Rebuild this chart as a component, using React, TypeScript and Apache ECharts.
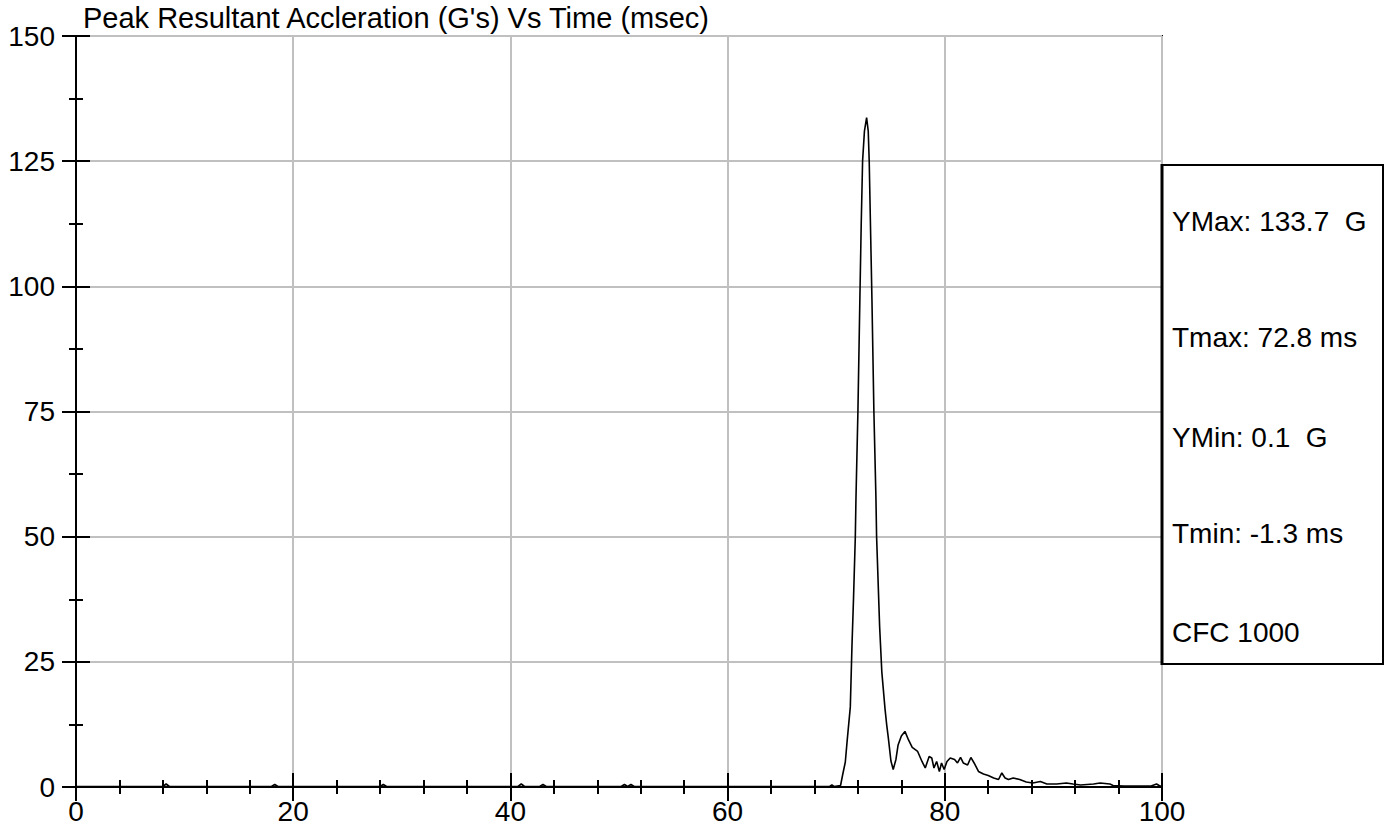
import React, { useEffect, useRef } from "react";
import * as echarts from "echarts";

const FONT = "Arial, 'Liberation Sans', Helvetica, sans-serif";

const titleText = "Peak Resultant Accleration (G's) Vs Time (msec)";
const xTicks = { min: 0, max: 100, interval: 20 };
const yTicks = { min: 0, max: 150, interval: 25 };

const timeMs: number[] = [
  0, 3, 8.0, 8.3, 8.6, 13, 18.0, 18.3, 18.6, 23, 28.0, 28.3, 28.6, 34,
  40.7, 41.0, 41.3, 42.7, 43.0, 43.3, 47, 50.2, 50.5, 50.8, 51.1, 51.4, 56, 62, 66,
  69.4, 69.6, 69.8, 70.4, 70.6, 70.84, 71.0, 71.3, 71.45, 71.6, 71.76, 71.82, 72.0,
  72.18, 72.3, 72.43, 72.6, 72.8, 72.95, 73.04, 73.29, 73.47, 73.66, 73.72, 74.0,
  74.2, 74.5, 74.65, 74.8, 75.04, 75.25, 75.5, 75.7, 76.0, 76.33, 76.66, 77.0, 77.5,
  77.9, 78.2, 78.56, 78.8, 79.0, 79.25, 79.5, 79.7, 79.94, 80.2, 80.5, 80.9, 81.17,
  81.45, 81.7, 82.1, 82.4, 82.7, 83.1, 83.56, 84.0, 84.5, 84.95, 85.25, 85.55, 85.86,
  86.3, 86.9, 87.5, 88.1, 88.8, 89.4, 90.3, 91.2, 91.8, 92.5, 93.7, 94.3, 95.2, 95.5,
  96.5, 97.5, 99.0, 99.5, 99.8, 100,
];

const accelG: number[] = [
  0.1, 0.1, 0.1, 0.6, 0.1, 0.1, 0.1, 0.5, 0.1, 0.1, 0.1, 0.5, 0.1, 0.1,
  0.1, 0.6, 0.1, 0.1, 0.5, 0.1, 0.1, 0.1, 0.5, 0.1, 0.5, 0.1, 0.1, 0.1, 0.1,
  0.1, 0.4, 0.1, 0.3, 2.5, 5, 9, 16, 28, 38, 50, 57.6, 75,
  97.5, 112, 125, 131, 133.7, 131, 125, 97.5, 75, 57.6, 50, 32,
  23, 15.5, 12.4, 9.8, 5.2, 3.5, 5.5, 8.4, 10.2, 11.1, 9.4, 7.9, 7.1,
  5.1, 3.8, 6.1, 5.8, 3.8, 5.1, 3.1, 4.8, 3.5, 5.1, 5.8, 5.5, 4.8,
  5.9, 4.8, 4.4, 5.9, 4.8, 3.1, 2.6, 2.3, 1.8, 1.5, 2.8, 1.8, 1.5,
  1.8, 1.5, 1.0, 0.8, 1.1, 0.6, 0.6, 0.8, 0.6, 0.4, 0.6, 0.8, 0.6, 0.3,
  0.2, 0.2, 0.2, 0.6, 0.2, 0.2,
];

const statLines: string[] = [
  "YMax: 133.7  G",
  "Tmax: 72.8 ms",
  "YMin: 0.1  G",
  "Tmin: -1.3 ms",
  "CFC 1000",
];
const statY: number[] = [221, 337, 437, 533, 632];

export default function App() {
  const ref = useRef<HTMLDivElement>(null);

  useEffect(() => {
    if (!ref.current) return;
    const chart = echarts.init(ref.current, undefined, { renderer: "svg" });
    const black = "#000";
    const tickStyle = { color: black, width: 2 };

    const xCommon = {
      type: "value" as const,
      position: "bottom" as const,
      min: xTicks.min,
      max: xTicks.max,
      interval: xTicks.interval,
    };
    const yCommon = {
      type: "value" as const,
      position: "left" as const,
      min: yTicks.min,
      max: yTicks.max,
      interval: yTicks.interval,
    };

    chart.setOption({
      animation: false,
      backgroundColor: "#fff",
      grid: {
        left: 76,
        right: 227,
        top: 36,
        bottom: 50,
        show: true,
        borderColor: black,
        borderWidth: 2,
        backgroundColor: "transparent",
      },
      xAxis: [
        {
          ...xCommon,
          axisLine: { onZero: false, lineStyle: { color: black, width: 2 } },
          axisTick: { show: true, length: 14, lineStyle: tickStyle },
          minorTick: { show: true, splitNumber: 5, length: 7, lineStyle: tickStyle },
          axisLabel: { color: black, fontSize: 28, fontFamily: FONT, margin: 10 },
          splitLine: { show: true, lineStyle: { color: "#c0c0c0", width: 2 } },
        },
        {
          ...xCommon,
          axisLine: { show: false },
          axisTick: { show: true, inside: true, length: 14, lineStyle: tickStyle },
          minorTick: { show: true, splitNumber: 5, length: 7, lineStyle: tickStyle },
          axisLabel: { show: false },
          splitLine: { show: false },
        },
      ],
      yAxis: [
        {
          ...yCommon,
          axisLine: { show: true, onZero: false, lineStyle: { color: black, width: 2 } },
          axisTick: { show: true, length: 14, lineStyle: tickStyle },
          minorTick: { show: true, splitNumber: 2, length: 7, lineStyle: tickStyle },
          axisLabel: { color: black, fontSize: 28, fontFamily: FONT, margin: 21 },
          splitLine: { show: true, lineStyle: { color: "#c0c0c0", width: 2 } },
        },
        {
          ...yCommon,
          axisLine: { show: false },
          axisTick: { show: true, inside: true, length: 14, lineStyle: tickStyle },
          minorTick: { show: true, splitNumber: 2, length: 7, lineStyle: tickStyle },
          axisLabel: { show: false },
          splitLine: { show: false },
        },
      ],
      series: [
        {
          type: "line",
          xAxisIndex: 0,
          yAxisIndex: 0,
          data: timeMs.map((t, i) => [t, accelG[i]]),
          showSymbol: false,
          symbol: "none",
          lineStyle: { color: black, width: 1.6 },
          clip: true,
          z: 5,
        },
      ],
      graphic: [
        {
          type: "text",
          left: 83,
          top: 3,
          style: { text: titleText, fill: black, fontSize: 29, fontFamily: FONT },
        },
        {
          type: "rect",
          shape: { x: 1162, y: 165, width: 221, height: 499 },
          style: { fill: "#fff", stroke: black, lineWidth: 2 },
          z: 10,
        },
        {
          type: "line",
          shape: { x1: 1162, y1: 164, x2: 1162, y2: 665 },
          style: { stroke: black, lineWidth: 3 },
          z: 11,
        },
        ...statLines.map((s, i) => ({
          type: "text",
          x: 1172,
          y: statY[i],
          z: 12,
          style: {
            text: s,
            fill: black,
            fontSize: 28,
            fontFamily: FONT,
            verticalAlign: "middle",
            align: "left",
          },
        })),
      ],
    });

    return () => chart.dispose();
  }, []);

  return (
    <div
      ref={ref}
      style={{ position: "absolute", left: 0, top: 0, width: 1389, height: 837 }}
    />
  );
}
